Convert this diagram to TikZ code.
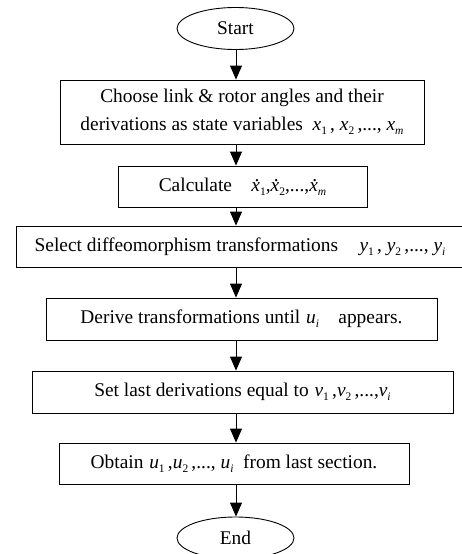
\documentclass[tikz,border=0pt]{standalone}
\usepackage{fontspec}
\setmainfont{Liberation Serif}
\usetikzlibrary{arrows.meta,shapes.geometric}
\newcommand\sv[2]{\textit{#1}\raisebox{-0.22em}{\fontsize{11.5}{11.5}\selectfont #2}}
\newcommand\xdot{\makebox[0pt][l]{\hspace{0.16em}\raisebox{0.47em}{.}}\textit{x}}
\newcommand\svd[1]{\xdot\raisebox{-0.22em}{\fontsize{11.5}{11.5}\selectfont #1}}
\begin{document}
\begin{tikzpicture}[x=1pt,y=-1pt,
  every node/.style={font=\fontsize{19.4}{28}\selectfont, inner sep=0pt, align=center},
  box/.style={draw, line width=0.9pt, rectangle},
  term/.style={draw, line width=0.9pt, ellipse, minimum width=117pt, minimum height=42pt},
  flow/.style={line width=0.9pt, -{Triangle[width=12pt,length=14pt]}}]
\useasboundingbox (0,0) rectangle (462,554);
\clip (0,0) rectangle (462,554);
\node[term] (start) at (235.5,28.5) {Start};
\node[box, minimum width=364pt, minimum height=64pt] (b1) at (242,112)
  {Choose link \& rotor angles and their\\ derivations as state variables\hspace{0.5em}\sv{x}{1}\,, \sv{x}{2}\,,..., \sv{x}{\textit{m}}};
\node[box, minimum width=249pt, minimum height=41pt] (b2) at (242.5,186.5)
  {Calculate\hspace{1em}\svd{1},\svd{2},...,\svd{\textit{m}}};
\node[box, minimum width=448pt, minimum height=41pt] (b3) at (240,246.5)
  {Select diffeomorphism transformations\hspace{1.1em}\sv{y}{1}\,, \sv{y}{2}\,,..., \sv{y}{\textit{i}}};
\node[box, minimum width=391pt, minimum height=42pt] (b4) at (241.5,319)
  {Derive transformations until\hspace{0.3em}\sv{u}{\textit{i}}\hspace{1em}appears.};
\node[box, minimum width=421pt, minimum height=42pt] (b5) at (242.5,392)
  {Set last derivations equal to\hspace{0.3em}\sv{v}{1}\,,\sv{v}{2}\,,...,\sv{v}{\textit{i}}};
\node[box, minimum width=350pt, minimum height=41pt] (b6) at (234,463.5)
  {Obtain\hspace{0.3em}\sv{u}{1}\,,\sv{u}{2}\,,..., \sv{u}{\textit{i}}\hspace{0.5em}from last section.};
\node[term] (end) at (235.5,538) {End};
\coordinate (ax) at (236,0);
\draw[flow] (ax |- start.south) -- (ax |- b1.north);
\draw[flow] (ax |- b1.south) -- (ax |- b2.north);
\draw[flow] (ax |- b2.south) -- (ax |- b3.north);
\draw[flow] (ax |- b3.south) -- (ax |- b4.north);
\draw[flow] (ax |- b4.south) -- (ax |- b5.north);
\draw[flow] (ax |- b5.south) -- (ax |- b6.north);
\draw[flow] (ax |- b6.south) -- (ax |- end.north);
\end{tikzpicture}
\end{document}
